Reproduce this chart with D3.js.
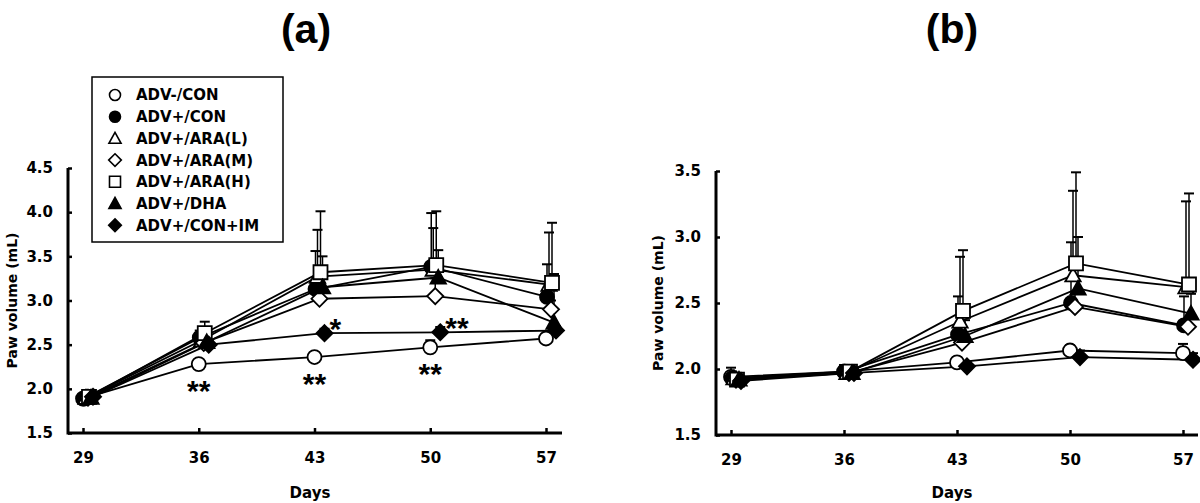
<!DOCTYPE html>
<html>
<head>
<meta charset="utf-8">
<script src="https://cdnjs.cloudflare.com/ajax/libs/d3/7.8.5/d3.min.js"></script>
<style>
  body { margin: 0; background: #fff; }
  text { font-family: "DejaVu Sans", sans-serif; font-weight: bold; fill: #000; }
</style>
</head>
<body>
<script>
// days of measurement
var days = [29, 36, 43, 50, 57];
var seriesNames = ["ADV-/CON", "ADV+/CON", "ADV+/ARA(L)", "ADV+/ARA(M)", "ADV+/ARA(H)", "ADV+/DHA", "ADV+/CON+IM"];

// panel (a) means and SD (upper bars only)
var meanA = [
  [1.89, 2.28, 2.36, 2.47, 2.57],
  [1.89, 2.58, 3.13, 3.38, 3.04],
  [1.90, 2.55, 3.27, 3.35, 3.18],
  [1.90, 2.52, 3.02, 3.05, 2.90],
  [1.91, 2.63, 3.32, 3.40, 3.20],
  [1.90, 2.53, 3.15, 3.26, 2.75],
  [1.91, 2.50, 2.63, 2.64, 2.66]
];
var sdA = [
  [0.02, 0.03, 0.04, 0.08, 0.04],
  [0.02, 0.08, 0.43, 0.61, 0.37],
  [0.03, 0.08, 0.53, 0.47, 0.59],
  [0.03, 0.06, 0.15, 0.20, 0.10],
  [0.03, 0.13, 0.69, 0.61, 0.68],
  [0.03, 0.08, 0.35, 0.31, 0.55],
  [0.02, 0.05, 0.05, 0.06, 0.05]
];

// panel (b)
var meanB = [
  [1.94, 1.98, 2.05, 2.14, 2.12],
  [1.93, 1.98, 2.26, 2.50, 2.33],
  [1.93, 1.97, 2.36, 2.71, 2.62],
  [1.92, 1.97, 2.20, 2.47, 2.32],
  [1.92, 1.98, 2.44, 2.80, 2.64],
  [1.92, 1.97, 2.25, 2.61, 2.42],
  [1.91, 1.97, 2.02, 2.09, 2.07]
];
var sdB = [
  [0.07, 0.05, 0.04, 0.04, 0.07],
  [0.05, 0.05, 0.29, 0.46, 0.22],
  [0.04, 0.05, 0.49, 0.64, 0.65],
  [0.04, 0.04, 0.08, 0.10, 0.06],
  [0.05, 0.05, 0.46, 0.69, 0.69],
  [0.04, 0.04, 0.12, 0.39, 0.15],
  [0.03, 0.03, 0.03, 0.05, 0.05]
];

var yTicksA = [1.5, 2.0, 2.5, 3.0, 3.5, 4.0, 4.5];
var yTicksB = [1.5, 2.0, 2.5, 3.0, 3.5];

// significance marks on panel (a)
var starsA = [
  {s: 0, d: 36, t: "**", pos: "below"},
  {s: 0, d: 43, t: "**", pos: "below"},
  {s: 0, d: 50, t: "**", pos: "below"},
  {s: 6, d: 43, t: "*", pos: "right"},
  {s: 6, d: 50, t: "**", pos: "right"}
];

// marker style per series
var shapes = ["circle", "circle", "triangle", "diamond", "square", "triangle", "diamond"];
var fills = ["#fff", "#000", "#fff", "#fff", "#fff", "#000", "#000"];
var jitter = [0, 1, 3, 5, 6, 8, 10];

var W = 1200, H = 503;
var svg = d3.select("body").append("svg").attr("width", W).attr("height", H);

function markerPath(shape, r) {
  var p = d3.path();
  if (shape == "circle") {
    p.arc(0, 0, r, 0, 2 * Math.PI);
  } else if (shape == "square") {
    p.rect(-r, -r, 2 * r, 2 * r);
  } else if (shape == "diamond") {
    r = r * 1.15;
    p.moveTo(0, -r); p.lineTo(r, 0); p.lineTo(0, r); p.lineTo(-r, 0); p.closePath();
  } else {
    r = r * 1.1;
    p.moveTo(0, -r); p.lineTo(r, r * 0.8); p.lineTo(-r, r * 0.8); p.closePath();
  }
  return p.toString();
}

function panel(cfg) {
  var g = svg.append("g");
  var x = d3.scaleLinear().domain([29, 57]).range([cfg.x0, cfg.x1]);
  var y = d3.scaleLinear().domain([cfg.yTicks[0], cfg.yTicks[cfg.yTicks.length - 1]]).range([cfg.yb, cfg.yt]);

  // axes
  var yAxis = d3.axisLeft(y).tickValues(cfg.yTicks).tickFormat(d3.format(".1f")).tickSize(-4).tickSizeOuter(0).tickPadding(15);
  var xAxis = d3.axisBottom(x).tickValues(days).tickFormat(d3.format("d")).tickSize(-5).tickSizeOuter(0).tickPadding(19);

  var ya = g.append("g").attr("transform", "translate(" + cfg.ax + ",0)").call(yAxis);
  var xa = g.append("g").attr("transform", "translate(0," + cfg.yb + ")").call(xAxis);
  ya.select(".domain").attr("d", "M0," + (cfg.yb + 1.5) + "V" + cfg.yt);
  xa.select(".domain").attr("d", "M" + cfg.ax + ",0H" + cfg.xEnd);
  g.selectAll(".domain").attr("stroke", "#000").attr("stroke-width", 3);
  g.selectAll(".tick line").attr("stroke", "#000").attr("stroke-width", 2.5);
  g.selectAll(".tick text").style("font-family", "DejaVu Sans").style("font-weight", "bold").style("font-size", "15px").attr("fill", "#000");

  g.append("text").attr("x", (cfg.ax + cfg.xEnd) / 2 - 5).attr("y", 498).attr("text-anchor", "middle")
    .style("font-size", "15px").text("Days");
  g.append("text").attr("transform", "translate(" + cfg.ylx + "," + (cfg.yt + cfg.yb) / 2 + ") rotate(-90)")
    .attr("text-anchor", "middle").attr("dy", "0.35em").style("font-size", "14px").text("Paw volume (mL)");
  g.append("text").attr("x", cfg.tx).attr("y", 43).attr("text-anchor", "middle")
    .style("font-family", "'Liberation Sans Narrow', 'Liberation Sans', sans-serif")
    .style("font-size", "41px").text(cfg.title);

  function px(si, di) { return x(days[di]) + jitter[si]; }

  // error bars (upper only)
  cfg.mean.forEach(function(m, si) {
    m.forEach(function(v, di) {
      var xx = px(si, di), y0 = y(v), y1 = y(v + cfg.sd[si][di]);
      g.append("line").attr("x1", xx).attr("x2", xx).attr("y1", y0).attr("y2", y1)
        .attr("stroke", "#000").attr("stroke-width", 1.5);
      g.append("line").attr("x1", xx - 5).attr("x2", xx + 5).attr("y1", y1).attr("y2", y1)
        .attr("stroke", "#000").attr("stroke-width", 2);
    });
  });

  // lines
  var line = d3.line().x(function(d) { return d[0]; }).y(function(d) { return d[1]; });
  cfg.mean.forEach(function(m, si) {
    var pts = m.map(function(v, di) { return [px(si, di), y(v)]; });
    g.append("path").attr("d", line(pts)).attr("fill", "none").attr("stroke", "#000").attr("stroke-width", 1.8);
  });

  // markers
  cfg.mean.forEach(function(m, si) {
    m.forEach(function(v, di) {
      g.append("path").attr("d", markerPath(shapes[si], 7))
        .attr("transform", "translate(" + px(si, di) + "," + y(v) + ")")
        .attr("fill", fills[si]).attr("stroke", "#000").attr("stroke-width", 1.8);
    });
  });

  // stars
  (cfg.stars || []).forEach(function(st) {
    var di = days.indexOf(st.d);
    var xx = px(st.s, di), yy = y(cfg.mean[st.s][di]);
    var t = g.append("text").style("font-family", "'Liberation Sans', Arial, sans-serif").style("font-size", "30px").text(st.t);
    if (st.pos == "below") {
      t.attr("x", xx).attr("y", yy + 37).attr("text-anchor", "middle");
    } else {
      t.attr("x", xx + 5).attr("y", yy + 6).attr("text-anchor", "start");
    }
  });

  return g;
}

panel({title: "(a)", tx: 306, ax: 68, xEnd: 562, x0: 83, x1: 546, yt: 168, yb: 433, ylx: 12,
  yTicks: yTicksA, mean: meanA, sd: sdA, stars: starsA});
panel({title: "(b)", tx: 952, ax: 716, xEnd: 1198, x0: 731, x1: 1183, yt: 171, yb: 435, ylx: 658,
  yTicks: yTicksB, mean: meanB, sd: sdB});

// legend for panel (a)
var leg = svg.append("g");
leg.append("rect").attr("x", 92).attr("y", 77).attr("width", 191).attr("height", 165)
  .attr("fill", "#fff").attr("stroke", "#000").attr("stroke-width", 1.5);
seriesNames.forEach(function(name, i) {
  var yy = 95 + i * 21.7;
  leg.append("path").attr("d", markerPath(shapes[i], 5.5)).attr("transform", "translate(115," + yy + ")")
    .attr("fill", fills[i]).attr("stroke", "#000").attr("stroke-width", 1.6);
  leg.append("text").attr("x", 136).attr("y", yy).attr("dy", "0.36em").style("font-size", "15px").text(name);
});
</script>
</body>
</html>
